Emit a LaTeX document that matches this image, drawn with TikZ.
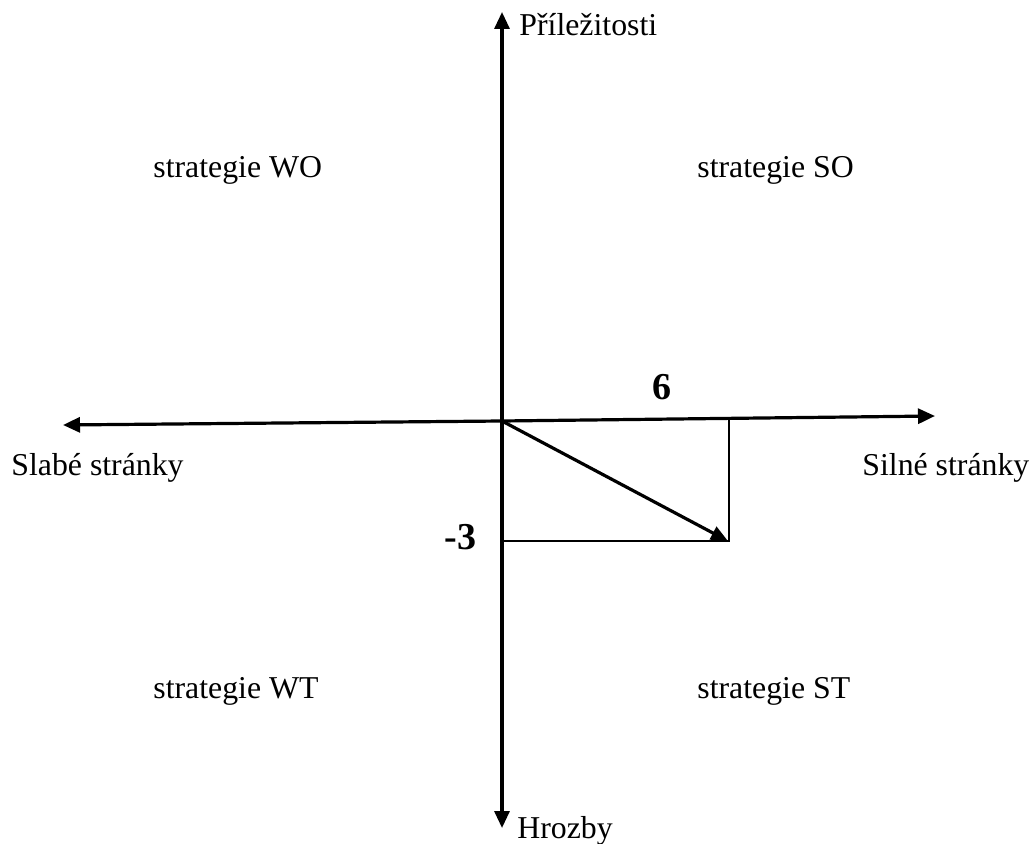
\documentclass[tikz,border=0pt]{standalone}
\usepackage{fontspec}
\setmainfont{Liberation Serif}
\usetikzlibrary{arrows.meta}
\begin{document}
\begin{tikzpicture}[x=0.5pt,y=-0.5pt,
  axis/.style={line width=1.6pt,-{Triangle[length=8.5pt,width=7.5pt]}},
  vec/.style={line width=1.6pt,-{Triangle[length=8.5pt,width=7pt]}},
  thin/.style={line width=0.6pt},
  lbl/.style={font=\fontsize{15.9}{19}\selectfont,inner sep=0pt,anchor=base west},
  num/.style={font=\fontsize{19}{22}\selectfont\bfseries,inner sep=0pt,anchor=base west}]
\useasboundingbox (0,0) rectangle (1033,844);
\coordinate (O) at (502,421);
\coordinate (T) at (502,12);
\coordinate (B) at (502,828);
\coordinate (L) at (63,425);
\coordinate (R) at (935,416);
\coordinate (P) at (728,541);
\coordinate (C) at (729,418);
\coordinate (Q) at (502,541);
\draw[axis] (O) -- (T);
\draw[axis] (O) -- (B);
\draw[axis] (O) -- (L);
\draw[axis] (O) -- (R);
\draw[thin] (C) -- (729,541) -- (Q);
\draw[vec] (O) -- (P);
\node[lbl] (pril) at (519,36) {Příležitosti};
\node[lbl] (hroz) at (517,838) {Hrozby};
\node[lbl] (slab) at (11,475) {Slabé stránky};
\node[lbl] (siln) at (862,475) {Silné stránky};
\node[lbl] (wo) at (153,178) {strategie WO};
\node[lbl] (so) at (697,178) {strategie SO};
\node[lbl] (wt) at (153,698) {strategie WT};
\node[lbl] (st) at (697,698) {strategie ST};
\node[num] (six) at (652,400) {6};
\node[num] (m3) at (444,549) {-3};
\end{tikzpicture}
\end{document}
